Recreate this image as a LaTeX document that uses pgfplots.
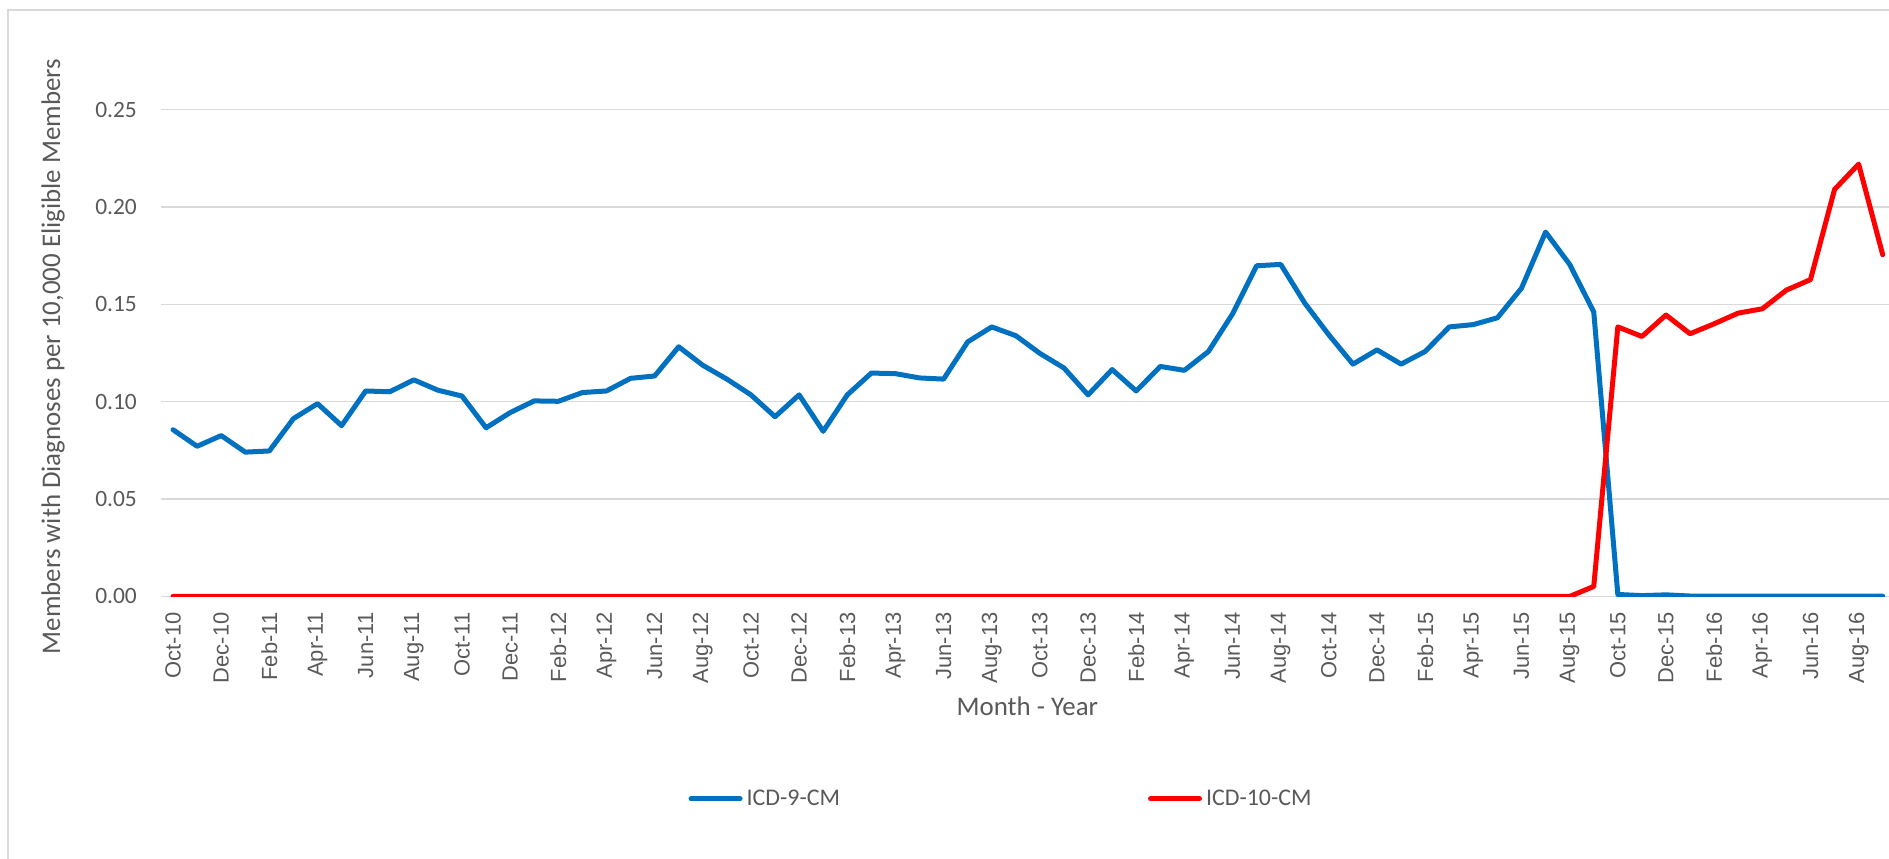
\documentclass[border=0pt]{standalone}
\usepackage{fontspec}
\setmainfont{Carlito}
\setsansfont{Liberation Sans}
\newcommand{\xl}[1]{{\sffamily\fontsize{22}{22}\selectfont #1}}
\usepackage{pgfplots}
\pgfplotsset{compat=1.18}
\definecolor{icdblue}{RGB}{0,112,192}
\definecolor{icdred}{RGB}{255,0,0}
\definecolor{gridgray}{HTML}{D9D9D9}
\definecolor{ticktext}{HTML}{595959}
\begin{document}
\begin{tikzpicture}
\useasboundingbox (0bp,0bp) rectangle (1889bp,-859bp);
\clip (0bp,0bp) rectangle (1889bp,-859bp);
\draw[gridgray, line width=2bp] (7.5bp,-10bp) rectangle (2000bp,-900bp);
\begin{axis}[
  at={(161bp,-596.4bp)}, anchor=south west,
  scale only axis, width=1733.8bp, height=486.8bp,
  xmin=-0.5, xmax=71.5, ymin=0, ymax=0.25,
  axis x line=bottom, axis y line=left,
  axis line style={draw=none},
  major tick length=0pt,
  ymajorgrids, grid style={draw=gridgray, line width=1.6bp},
  ytick={0,0.05,0.1,0.15,0.2,0.25},
  scaled y ticks=false,
  /pgf/number format/assume math mode=true,
  yticklabel style={/pgf/number format/fixed, /pgf/number format/fixed zerofill, /pgf/number format/precision=2,
    font=\fontsize{23.5}{23.5}\selectfont, text=ticktext, anchor=east, inner sep=0pt, xshift=-24bp},
  xtick={0,2,...,70},
  xticklabels={\xl{Oct-10},\xl{Dec-10},\xl{Feb-11},\xl{Apr-11},\xl{Jun-11},\xl{Aug-11},\xl{Oct-11},\xl{Dec-11},\xl{Feb-12},\xl{Apr-12},\xl{Jun-12},\xl{Aug-12},\xl{Oct-12},\xl{Dec-12},\xl{Feb-13},\xl{Apr-13},\xl{Jun-13},\xl{Aug-13},\xl{Oct-13},\xl{Dec-13},\xl{Feb-14},\xl{Apr-14},\xl{Jun-14},\xl{Aug-14},\xl{Oct-14},\xl{Dec-14},\xl{Feb-15},\xl{Apr-15},\xl{Jun-15},\xl{Aug-15},\xl{Oct-15},\xl{Dec-15},\xl{Feb-16},\xl{Apr-16},\xl{Jun-16},\xl{Aug-16}},
  xticklabel style={yshift=-16bp, rotate=90, anchor=east, inner sep=0pt, font=\sffamily\fontsize{22}{22}\selectfont, text=ticktext},
  xlabel={Month - Year},
  xlabel style={at={(rel axis cs:0.4997,0)}, anchor=center, yshift=-110.3bp, font=\fontsize{27}{27}\selectfont, text=ticktext},
  ylabel={Members with Diagnoses per 10,000 Eligible Members},
  ylabel style={at={(axis description cs:-0.0623,0.4928)}, anchor=center, font=\fontsize{27}{27}\selectfont, text=ticktext},
  legend columns=2,
  legend image code/.code={\draw[#1, line cap=round] (0bp,0bp) -- (49bp,0bp);},
  legend style={at={(axis description cs:0.3042,-0.4158)}, anchor=west, draw=none, fill=none, inner sep=0pt,
    font=\fontsize{24}{24}\selectfont, text=ticktext,
    nodes={inner sep=0pt},
    /tikz/every odd column/.append style={column sep=4bp},
    /tikz/every even column/.append style={column sep=308bp}},
]
\addplot[icdblue, line width=5bp, line join=round, line cap=round] coordinates {
(0,0.0856) (1,0.0771) (2,0.0826) (3,0.0741) (4,0.0747) (5,0.0913) (6,0.0990) (7,0.0877)
(8,0.1055) (9,0.1051) (10,0.1112) (11,0.1059) (12,0.1029) (13,0.0866) (14,0.0944) (15,0.1004)
(16,0.1002) (17,0.1047) (18,0.1055) (19,0.1120) (20,0.1132) (21,0.1282) (22,0.1187) (23,0.1116)
(24,0.1035) (25,0.0923) (26,0.1035) (27,0.0848) (28,0.1035) (29,0.1147) (30,0.1144) (31,0.1122)
(32,0.1116) (33,0.1307) (34,0.1384) (35,0.1339) (36,0.1248) (37,0.1173) (38,0.1035) (39,0.1165)
(40,0.1055) (41,0.1181) (42,0.1161) (43,0.1258) (44,0.1451) (45,0.1698) (46,0.1705) (47,0.1506)
(48,0.1343) (49,0.1193) (50,0.1266) (51,0.1193) (52,0.1258) (53,0.1384) (54,0.1396) (55,0.1431)
(56,0.1583) (57,0.1871) (58,0.1705) (59,0.1461) (60,0.0010) (61,0.0004) (62,0.0008) (63,0.0002)
(64,0.0002) (65,0.0001) (66,0.0001) (67,0.0001) (68,0.0001) (69,0.0001) (70,0.0001) (71,0.0001)
};
\addlegendentry{ICD-9-CM}
\addplot[icdred, line width=5bp, line join=round, line cap=round] coordinates {
(0,0) (1,0) (2,0) (3,0) (4,0) (5,0) (6,0) (7,0) (8,0) (9,0) (10,0) (11,0) (12,0) (13,0) (14,0)
(15,0) (16,0) (17,0) (18,0) (19,0) (20,0) (21,0) (22,0) (23,0) (24,0) (25,0) (26,0) (27,0) (28,0)
(29,0) (30,0) (31,0) (32,0) (33,0) (34,0) (35,0) (36,0) (37,0) (38,0) (39,0) (40,0) (41,0) (42,0)
(43,0) (44,0) (45,0) (46,0) (47,0) (48,0) (49,0) (50,0) (51,0) (52,0) (53,0) (54,0) (55,0) (56,0)
(57,0) (58,0) (59,0.0051) (60,0.1384) (61,0.1335) (62,0.1445) (63,0.1349) (64,0.1400) (65,0.1455)
(66,0.1477) (67,0.1573) (68,0.1627) (69,0.2090) (70,0.2220) (71,0.1755)
};
\addlegendentry{ICD-10-CM}
\end{axis}
\end{tikzpicture}
\end{document}
